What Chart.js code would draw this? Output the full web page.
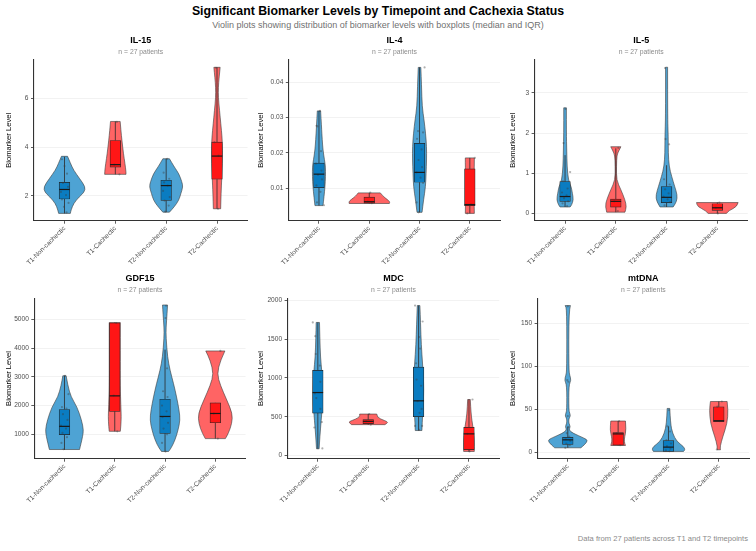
<!DOCTYPE html>
<html>
<head>
<meta charset="utf-8">
<script src="https://cdn.jsdelivr.net/npm/chart.js@4.4.1/dist/chart.umd.min.js"></script>
<style>
  body { margin: 0; background: #fff; width: 756px; height: 551px; position: relative; overflow: hidden;
         font-family: "Liberation Sans", Arial, sans-serif; }
  #title { position: absolute; top: 4.8px; left: 0; width: 756px; text-align: center; font-weight: bold;
           font-size: 12.3px; line-height: 1; color: #000; }
  #subtitle { position: absolute; top: 20.5px; left: 0; width: 756px; text-align: center;
              font-size: 9px; line-height: 1; color: #707070; }
  #caption { position: absolute; right: 8px; top: 535px; font-size: 7.6px; line-height: 1; color: #8a8a8a; }
  canvas { position: absolute; }
</style>
</head>
<body>
<div id="title">Significant Biomarker Levels by Timepoint and Cachexia Status</div>
<div id="subtitle">Violin plots showing distribution of biomarker levels with boxplots (median and IQR)</div>
<div id="caption">Data from 27 patients across T1 and T2 timepoints</div>
<script>
// groups on the x axis
const CATEGORIES = ['T1-Non-cachectic', 'T1-Cachectic', 'T2-Non-cachectic', 'T2-Cachectic'];
const SUBTITLE = 'n = 27 patients';

// box stats per group: [lower whisker, q1, median, q3, upper whisker]
// violin outline per group: [value, half width in category units], top to bottom
// points per group: values, with their horizontal jitter in category units

// IL-15
const IL15_Y_TICKS = [2, 4, 6];
const IL15_Y_RANGE = [0.98, 7.57];
const IL15_BOX = [
  [1.28, 1.87, 2.26, 2.55, 3.60],
  [2.88, 3.18, 3.28, 4.27, 5.05],
  [1.33, 1.81, 2.42, 2.64, 3.52],
  [1.47, 2.68, 3.63, 4.20, 7.27]
];
const IL15_VIOLIN = [
  [[3.62, .06], [3.32, .12], [3.05, .18], [2.70, .30], [2.37, .41], [2.15, .39], [1.96, .29], [1.69, .18], [1.42, .13], [1.28, .115]],
  [[5.05, .095], [4.68, .11], [4.27, .13], [3.73, .16], [3.32, .19], [2.98, .21], [2.88, .21]],
  [[3.52, .065], [3.18, .16], [2.91, .25], [2.57, .31], [2.37, .33], [2.10, .29], [1.82, .25], [1.55, .16], [1.33, .065]],
  [[7.27, .062], [6.86, .042], [6.45, .026], [6.04, .026], [5.50, .05], [4.95, .075], [4.41, .10], [3.87, .11], [3.32, .105], [2.78, .095], [2.10, .08], [1.47, .072]]
];
const IL15_POINTS = [
  [3.50, 3.22, 2.91, 2.53, 2.37, 2.16, 2.03, 1.85, 1.71, 1.55, 1.32],
  [5.03, 3.28, 2.88],
  [3.52, 2.95, 2.70, 2.55, 2.42, 2.20, 1.95, 1.80, 1.60, 1.35],
  [7.25, 4.20, 3.65, 1.47]
];
const IL15_JITTER = [
  [-.05, 0, .05, -.03, .07, -.07, .03, -.05, .08, -.01, .04],
  [.03, -.02, .08],
  [.02, -.05, .06, -.04, .03, -.06, .07, -.03, .05, -.02],
  [-.02, -.05, .03, .02]
];

// IL-4
const IL4_Y_TICKS = [0.01, 0.02, 0.03, 0.04];
const IL4_Y_RANGE = [0.00083, 0.0463];
const IL4_BOX = [
  [0.0051, 0.0102, 0.0140, 0.0171, 0.0319],
  [0.0057, 0.0058, 0.0062, 0.0075, 0.0087],
  [0.0032, 0.0117, 0.0145, 0.0227, 0.0442],
  [0.0029, 0.0051, 0.0054, 0.0155, 0.0186]
];
const IL4_VIOLIN = [
  [[0.0319, .033], [0.0275, .05], [0.0237, .065], [0.0208, .08], [0.0180, .11], [0.0161, .13], [0.0133, .13], [0.0105, .12], [0.0076, .10], [0.0051, .08]],
  [[0.0087, .22], [0.0078, .27], [0.0068, .36], [0.0062, .41], [0.0057, .40]],
  [[0.0442, .026], [0.0388, .04], [0.0331, .052], [0.0293, .09], [0.0256, .12], [0.0218, .14], [0.0180, .14], [0.0142, .13], [0.0105, .12], [0.0067, .08], [0.0032, .05]],
  [[0.0186, .09], [0.0161, .09], [0.0124, .08], [0.0067, .085], [0.0029, .09]]
];
const IL4_POINTS = [
  [0.0319, 0.0277, 0.0275, 0.0205, 0.0170, 0.0150, 0.0138, 0.0125, 0.0108, 0.0090, 0.0060, 0.0052],
  [0.0088, 0.0062, 0.0058],
  [0.0442, 0.0262, 0.0258, 0.0240, 0.0210, 0.0180, 0.0160, 0.0145, 0.0130, 0.0115, 0.0060, 0.0032],
  [0.0186, 0.0054, 0.0029]
];
const IL4_JITTER = [
  [.02, -.05, -.03, .04, -.06, .05, -.02, .06, -.05, .03, -.04, .10],
  [.02, -.03, .05],
  [.10, -.03, .07, -.05, .04, -.02, .05, -.06, .02, .07, -.06, -.02],
  [.10, .02, -.05]
];

// IL-5
const IL5_Y_TICKS = [0, 1, 2, 3];
const IL5_Y_RANGE = [-0.182, 3.82];
const IL5_BOX = [
  [0.16, 0.30, 0.42, 0.79, 1.45],
  [0.03, 0.157, 0.30, 0.355, 1.62],
  [0.16, 0.27, 0.40, 0.67, 1.20],
  [0.00, 0.074, 0.14, 0.24, 0.27]
];
const IL5_VIOLIN = [
  [[2.63, .026], [1.99, .026], [1.58, .033], [1.17, .04], [0.83, .065], [0.67, .12], [0.50, .145], [0.34, .165], [0.21, .13], [0.16, .10]],
  [[1.66, .10], [1.56, .06], [1.45, .02], [1.17, .013], [0.83, .013], [0.59, .10], [0.34, .18], [0.17, .21], [0.03, .18]],
  [[3.64, .02], [2.40, .02], [1.91, .033], [1.50, .033], [1.17, .05], [0.92, .10], [0.67, .16], [0.46, .21], [0.30, .20], [0.16, .13]],
  [[0.27, .41], [0.17, .39], [0.07, .23], [0.00, .18]]
];
const IL5_POINTS = [
  [2.60, 1.75, 1.03, 0.80, 0.62, 0.52, 0.45, 0.38, 0.30, 0.25, 0.18],
  [1.63, 0.30, 0.06],
  [3.62, 1.85, 1.72, 0.85, 0.72, 0.60, 0.50, 0.42, 0.35, 0.28, 0.20],
  [0.27, 0.14, 0.00]
];
const IL5_JITTER = [
  [.01, -.03, .10, -.04, .05, -.06, .03, -.02, .06, -.05, .04],
  [.05, -.03, .04],
  [-.03, -.02, .05, -.05, .06, -.03, .04, -.06, .02, .07, -.04],
  [.04, -.03, .01]
];

// GDF15
const GDF15_Y_TICKS = [1000, 2000, 3000, 4000, 5000];
const GDF15_Y_RANGE = [150, 5740];
const GDF15_BOX = [
  [458, 988, 1277, 1865, 3040],
  [1104, 1800, 2340, 4880, 4896],
  [401, 1035, 1622, 2222, 3950],
  [850, 1403, 1726, 2095, 2100]
];
const GDF15_VIOLIN = [
  [[3040, .033], [2706, .066], [2303, .13], [1957, .25], [1496, .34], [1150, .38], [919, .36], [689, .33], [470, .30]],
  [[4896, .11], [3801, .11], [2648, .11], [2014, .12], [1611, .13], [1265, .12], [1104, .11]],
  [[5507, .05], [5184, .04], [4723, .02], [4377, .02], [3686, .05], [3225, .10], [2764, .17], [2303, .23], [1841, .28], [1496, .30], [1150, .26], [804, .20], [516, .12], [401, .07]],
  [[3905, .19], [3571, .10], [3110, .035], [2706, .10], [2187, .23], [1726, .34], [1380, .33], [1035, .26], [850, .20]]
];
const GDF15_POINTS = [
  [3040, 2400, 1950, 1900, 1700, 1500, 1300, 1200, 1050, 900, 700, 480],
  [4880, 2350, 1104],
  [5480, 5050, 3300, 2500, 2300, 2000, 1800, 1600, 1400, 1200, 1000, 700, 400],
  [3905, 1726, 850]
];
const GDF15_JITTER = [
  [.01, .08, -.05, .04, -.03, .06, -.07, .03, -.04, .05, -.06, -.02],
  [.03, -.02, .05],
  [.02, .01, .04, -.04, .05, -.06, .03, -.05, .06, -.03, .04, -.06, .01],
  [.10, -.03, .05]
];

// MDC
const MDC_Y_TICKS = [0, 500, 1000, 1500, 2000];
const MDC_Y_RANGE = [-43, 2030];
const MDC_BOX = [
  [85, 547, 812, 1098, 1718],
  [397, 410, 440, 462, 534],
  [321, 500, 705, 1141, 1936],
  [51, 73, 278, 363, 722]
];
const MDC_VIOLIN = [
  [[1718, .033], [1517, .04], [1261, .053], [1090, .08], [876, .093], [662, .093], [449, .066], [235, .04], [85, .026]],
  [[534, .17], [491, .17], [449, .33], [427, .40], [397, .33]],
  [[1936, .026], [1688, .04], [1432, .053], [1175, .08], [962, .10], [748, .10], [534, .08], [321, .066]],
  [[722, .026], [534, .04], [363, .08], [235, .106], [107, .106], [51, .106]]
];
const MDC_POINTS = [
  [1718, 1540, 1310, 1160, 950, 800, 740, 600, 430, 360, 90],
  [534, 440, 397],
  [1936, 1730, 1530, 1380, 1190, 980, 900, 700, 600, 550, 380, 380, 330],
  [722, 278, 51]
];
const MDC_JITTER = [
  [-.10, -.05, -.04, .04, .05, -.06, -.03, .05, .08, -.07, .09],
  [.02, -.04, .05],
  [-.07, .08, .01, .03, -.05, -.04, .05, -.02, .06, .02, -.07, .07, .01],
  [.07, -.03, .01]
];

// mtDNA
const MTDNA_Y_TICKS = [0, 50, 100, 150];
const MTDNA_Y_RANGE = [-7.7, 179.3];
const MTDNA_BOX = [
  [5, 8.9, 14.3, 17.3, 29.7],
  [7.7, 8.1, 21.2, 22.7, 36.2],
  [0.8, 0.8, 5.8, 13.5, 30],
  [35.5, 35.5, 36.6, 52.8, 59]
];
const MTDNA_VIOLIN = [
  [[170.8, .053], [166.5, .02], [95.2, .02], [89.4, .04], [83.7, .066], [77.9, .02], [49, .02], [45.1, .04], [42, .053], [38.9, .02], [33.5, .02], [29.7, .053], [25.8, .02], [22, .10], [16.2, .33], [13.5, .40], [8.5, .33], [5, .26]],
  [[36.2, .146], [25.8, .16], [18.1, .13], [12.3, .12], [7.7, .146]],
  [[50.9, .026], [33.5, .04], [22, .08], [12.3, .166], [6.6, .30], [2.7, .33], [0.8, .30]],
  [[59, .166], [49, .186], [33.5, .166], [18.1, .08], [6.6, .026], [2.7, .033]]
];
const MTDNA_POINTS = [
  [170, 84, 82, 42, 29, 22, 18, 15, 13, 10, 8, 5],
  [36, 22, 8],
  [49, 30, 24, 14, 10, 7, 4, 2, 1],
  [59, 53, 36, 3]
];
const MTDNA_JITTER = [
  [0, -.01, .01, 0, .01, -.02, .03, -.04, .05, -.03, .04, -.05],
  [.02, -.03, .04],
  [.01, -.02, .03, -.04, .05, -.03, .04, -.05, .02],
  [.06, -.03, .02, -.04]
];

const PANELS = [
  { name: 'IL-15', ticks: IL15_Y_TICKS, range: IL15_Y_RANGE, box: IL15_BOX, violin: IL15_VIOLIN, points: IL15_POINTS, jitter: IL15_JITTER },
  { name: 'IL-4', ticks: IL4_Y_TICKS, range: IL4_Y_RANGE, box: IL4_BOX, violin: IL4_VIOLIN, points: IL4_POINTS, jitter: IL4_JITTER },
  { name: 'IL-5', ticks: IL5_Y_TICKS, range: IL5_Y_RANGE, box: IL5_BOX, violin: IL5_VIOLIN, points: IL5_POINTS, jitter: IL5_JITTER },
  { name: 'GDF15', ticks: GDF15_Y_TICKS, range: GDF15_Y_RANGE, box: GDF15_BOX, violin: GDF15_VIOLIN, points: GDF15_POINTS, jitter: GDF15_JITTER },
  { name: 'MDC', ticks: MDC_Y_TICKS, range: MDC_Y_RANGE, box: MDC_BOX, violin: MDC_VIOLIN, points: MDC_POINTS, jitter: MDC_JITTER },
  { name: 'mtDNA', ticks: MTDNA_Y_TICKS, range: MTDNA_Y_RANGE, box: MTDNA_BOX, violin: MTDNA_VIOLIN, points: MTDNA_POINTS, jitter: MTDNA_JITTER }
];

// where each panel sits on the page (canvas box and plot area edges, page px)
const LAYOUT = [
  { x: 0,   y: 30,  h: 240, left: 34.0,  right: 247.5, top: 60,    bottom: 220.7 },
  { x: 252, y: 30,  h: 240, left: 288.8, right: 501.5, top: 60,    bottom: 220.7 },
  { x: 504, y: 30,  h: 240, left: 534.6, right: 747.8, top: 60,    bottom: 220.7 },
  { x: 0,   y: 268, h: 252, left: 34.3,  right: 245.5, top: 298.3, bottom: 458.7 },
  { x: 252, y: 268, h: 252, left: 287.6, right: 499.2, top: 298.3, bottom: 458.7 },
  { x: 504, y: 268, h: 252, left: 537.6, right: 749.0, top: 298.3, bottom: 458.7 }
];

const VIOLIN_FILL = ['#4ea3d4', '#ff6464', '#4ea3d4', '#ff6464'];
const BOX_FILL = ['#0a7cc1', '#ff1616', '#0a7cc1', '#ff1616'];
const FONT = '"Liberation Sans", Arial, sans-serif';

const smoothSide = (ctx, pts) => {
  for (let k = 0; k < pts.length - 1; k++) {
    const mx = (pts[k][0] + pts[k + 1][0]) / 2;
    const my = (pts[k][1] + pts[k + 1][1]) / 2;
    if (k === 0) ctx.lineTo(pts[0][0], pts[0][1]);
    else ctx.quadraticCurveTo(pts[k][0], pts[k][1], mx, my);
  }
  const last = pts[pts.length - 1];
  ctx.lineTo(last[0], last[1]);
};

const makePanelPlugin = (panel) => ({
  id: 'panelDecor',
  beforeDatasetsDraw(chart) {
    const { ctx, scales: { x, y } } = chart;
    ctx.save();
    panel.violin.forEach((profile, i) => {
      const right = profile.map(([v, w]) => [x.getPixelForValue(i + w), y.getPixelForValue(v)]);
      const left = profile.map(([v, w]) => [x.getPixelForValue(i - w), y.getPixelForValue(v)]).reverse();
      ctx.beginPath();
      ctx.moveTo(left[left.length - 1][0], left[left.length - 1][1]);
      smoothSide(ctx, right);
      smoothSide(ctx, left);
      ctx.closePath();
      ctx.fillStyle = VIOLIN_FILL[i];
      ctx.fill();
      ctx.lineWidth = 0.6;
      ctx.strokeStyle = '#3a3a3a';
      ctx.lineJoin = 'round';
      ctx.stroke();
    });
    // whiskers
    ctx.strokeStyle = '#2a2a2a';
    ctx.lineWidth = 0.8;
    panel.box.forEach(([lo, q1, med, q3, hi], i) => {
      const px = x.getPixelForValue(i);
      ctx.beginPath();
      ctx.moveTo(px, y.getPixelForValue(lo));
      ctx.lineTo(px, y.getPixelForValue(q1));
      ctx.moveTo(px, y.getPixelForValue(q3));
      ctx.lineTo(px, y.getPixelForValue(hi));
      ctx.stroke();
    });
    ctx.restore();
  },
  afterDatasetsDraw(chart) {
    const { ctx, scales: { x, y } } = chart;
    ctx.save();
    ctx.strokeStyle = '#1a1a1a';
    ctx.lineWidth = 1.2;
    panel.box.forEach(([lo, q1, med], i) => {
      const px = x.getPixelForValue(i);
      const py = y.getPixelForValue(med);
      ctx.beginPath();
      ctx.moveTo(px - 5.3, py);
      ctx.lineTo(px + 5.3, py);
      ctx.stroke();
    });
    ctx.restore();
  },
  afterDraw(chart) {
    const { ctx, chartArea } = chart;
    const cx = (chartArea.left + chartArea.right) / 2;
    ctx.save();
    ctx.textAlign = 'center';
    ctx.textBaseline = 'middle';
    ctx.fillStyle = '#000';
    ctx.font = 'bold 9px ' + FONT;
    ctx.fillText(panel.name, cx, chartArea.top - 19.8);
    ctx.fillStyle = '#8c8c8c';
    ctx.font = '6.8px ' + FONT;
    ctx.fillText(SUBTITLE, cx, chartArea.top - 7.9);
    ctx.restore();
  }
});

PANELS.forEach((panel, n) => {
  const L = LAYOUT[n];
  const canvas = document.createElement('canvas');
  canvas.width = 252;
  canvas.height = L.h;
  canvas.style.left = L.x + 'px';
  canvas.style.top = L.y + 'px';
  document.body.appendChild(canvas);

  const boxData = panel.box.map((b, i) => ({ x: i, y: [b[1], b[3]] }));
  const pointData = [];
  panel.points.forEach((vals, i) => {
    vals.forEach((v, k) => pointData.push({ x: i + panel.jitter[i][k], y: v }));
  });

  new Chart(canvas, {
    type: 'scatter',
    data: {
      datasets: [
        {
          type: 'scatter',
          data: pointData,
          pointRadius: 1.1,
          pointBackgroundColor: 'rgba(60,60,60,0.4)',
          pointBorderWidth: 0,
          order: 0
        },
        {
          type: 'bar',
          data: boxData,
          backgroundColor: BOX_FILL,
          borderColor: '#262626',
          borderWidth: 0.7,
          borderSkipped: false,
          barThickness: 10.6,
          order: 1
        }
      ]
    },
    options: {
      responsive: false,
      animation: false,
      layout: {
        padding: { left: 0, top: L.top - L.y, right: L.x + 252 - L.right, bottom: 0 }
      },
      plugins: { legend: { display: false }, tooltip: { enabled: false } },
      scales: {
        x: {
          type: 'linear',
          min: -0.6,
          max: 3.6,
          offset: false,
          afterBuildTicks: s => { s.ticks = CATEGORIES.map((c, i) => ({ value: i })); },
          afterFit: s => { s.height = L.y + L.h - L.bottom; },
          ticks: {
            callback: v => CATEGORIES[v],
            autoSkip: false,
            minRotation: 45,
            maxRotation: 45,
            padding: 1,
            color: '#4d4d4d',
            font: { family: FONT, size: 6.6 }
          },
          grid: { drawOnChartArea: false, offset: false, tickLength: 3, tickColor: '#333', tickWidth: 0.8 },
          border: { display: true, color: '#333', width: 1.1 }
        },
        y: {
          type: 'linear',
          min: panel.range[0],
          max: panel.range[1],
          bounds: 'data',
          afterBuildTicks: s => { s.ticks = panel.ticks.map(v => ({ value: v })); },
          afterFit: s => { s.width = L.left - L.x; },
          ticks: {
            callback: v => String(v),
            padding: 2.5,
            color: '#4d4d4d',
            font: { family: FONT, size: 6.6 }
          },
          grid: { color: '#ececec', lineWidth: 0.7, tickLength: 3, tickColor: '#333', tickWidth: 0.8 },
          border: { display: true, color: '#333', width: 1.1 },
          title: {
            display: true,
            text: 'Biomarker Level',
            color: '#000',
            font: { family: FONT, size: 7.6 },
            padding: { top: 4.6, bottom: 0 }
          }
        }
      }
    },
    plugins: [makePanelPlugin(panel)]
  });
});
</script>
</body>
</html>
